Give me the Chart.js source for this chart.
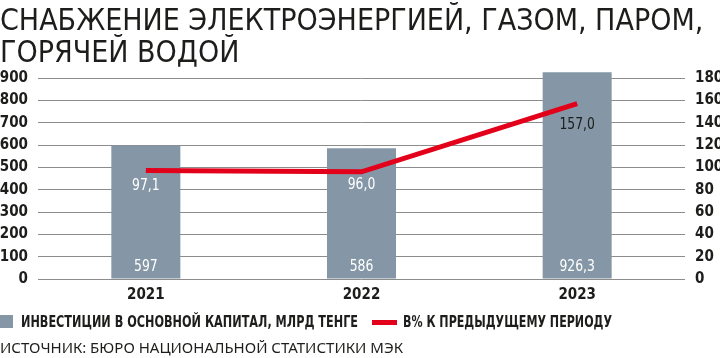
<!DOCTYPE html>
<html><head><meta charset="utf-8">
<script src="https://cdn.jsdelivr.net/npm/chart.js@4"></script>
<style>
html,body{margin:0;padding:0;background:#fff;width:720px;height:358px;overflow:hidden;}
#wrap{position:relative;width:720px;height:358px;}
#c{position:absolute;left:0;top:0;}
#title{position:absolute;left:0;top:4px;font-family:"DejaVu Sans Condensed";font-size:30px;line-height:32px;color:#1d1d1b;white-space:nowrap;}
#legend{position:absolute;left:0;top:313px;height:18px;font-family:"DejaVu Sans Condensed";font-weight:bold;font-size:16px;color:#1d1d1b;white-space:nowrap;}
.li{position:absolute;top:0;line-height:18px;transform-origin:0 50%;display:inline-block;}
.sw{position:absolute;}
#source{position:absolute;left:0;top:337px;font-family:"Noto Sans";font-size:15px;line-height:20px;color:#1d1d1b;white-space:nowrap;}
</style></head>
<body><div id="wrap">
<canvas id="c" width="720" height="358"></canvas>
<div id="title">СНАБЖЕНИЕ ЭЛЕКТРОЭНЕРГИЕЙ, ГАЗОМ, ПАРОМ,<br>ГОРЯЧЕЙ ВОДОЙ</div>
<div id="legend"></div>
<div id="source">ИСТОЧНИК: БЮРО НАЦИОНАЛЬНОЙ СТАТИСТИКИ МЭК</div>
</div>
<script>
const categories = ['2021', '2022', '2023'];
const investments = [597, 586, 926.3];
const growthPct = [97.1, 96.0, 157.0];
const seriesNames = ['ИНВЕСТИЦИИ В ОСНОВНОЙ КАПИТАЛ, МЛРД ТЕНГЕ', 'В% К ПРЕДЫДУЩЕМУ ПЕРИОДУ'];
const leftTicks = [0, 100, 200, 300, 400, 500, 600, 700, 800, 900];
const rightTicks = [0, 20, 40, 60, 80, 100, 120, 140, 160, 180];

const BAR_COLOR = '#8597a6';
const LINE_COLOR = '#e2001a';
const TEXT = '#1d1d1b';
const FONT = 'DejaVu Sans Condensed';

// plot area runs from y=60 to y=279; the top tick (900 / 180) sits at y=78
const AREA_TOP = 60, AREA_BOTTOM = 279, TOP_TICK_Y = 78;
const headroom = (AREA_BOTTOM - AREA_TOP) / (AREA_BOTTOM - TOP_TICK_Y);
const leftMax = leftTicks[leftTicks.length - 1] * headroom;
const rightMax = rightTicks[rightTicks.length - 1] * headroom;

const fmtBar = v => Number.isInteger(v) ? String(v) : v.toFixed(1).replace('.', ',');
const fmtLine = v => v.toFixed(1).replace('.', ',');

const valueLabels = {
  id: 'valueLabels',
  afterDatasetsDraw(chart, args, opts) {
    const ctx = chart.ctx;
    const sx = 0.86;
    ctx.save();
    ctx.textAlign = 'center';
    ctx.textBaseline = 'middle';
    ctx.font = '16px "' + FONT + '"';
    const drawText = (t, x, y, col) => {
      ctx.save();
      ctx.translate(x, y);
      ctx.scale(sx, 1);
      ctx.fillStyle = col;
      ctx.fillText(t, 0, 0);
      ctx.restore();
    };
    const barMeta = chart.getDatasetMeta(0);
    const yL = chart.scales.y;
    barMeta.data.forEach((el, i) => {
      drawText(fmtBar(investments[i]), el.x, yL.getPixelForValue(0) - 12, '#ffffff');
    });
    const lineMeta = chart.getDatasetMeta(1);
    lineMeta.data.forEach((el, i) => {
      drawText(fmtLine(growthPct[i]), el.x, el.y + opts.lineLabelOffsets[i], opts.lineLabelColors[i]);
    });
    ctx.restore();
  }
};

const tickFont = { family: FONT, weight: 'bold', size: 15 };

const chart = new Chart(document.getElementById('c'), {
  data: {
    labels: categories,
    datasets: [
      { type: 'bar', label: seriesNames[0], data: investments, backgroundColor: BAR_COLOR,
        yAxisID: 'y', categoryPercentage: 1, barPercentage: 0.32, order: 2 },
      { type: 'line', label: seriesNames[1], data: growthPct, borderColor: LINE_COLOR,
        borderWidth: 5, pointRadius: 0, tension: 0, yAxisID: 'y1', order: 1, borderCapStyle: 'butt' }
    ]
  },
  options: {
    responsive: false,
    animation: false,
    layout: { padding: { top: AREA_TOP, left: 0, right: 0, bottom: 0 } },
    plugins: {
      legend: { display: false },
      title: { display: false },
      tooltip: { enabled: false },
      valueLabels: { lineLabelColors: ['#ffffff', '#ffffff', TEXT], lineLabelOffsets: [15, 13, 21] }
    },
    scales: {
      x: {
        grid: { display: false, drawTicks: false },
        border: { display: false },
        ticks: { color: TEXT, font: tickFont, padding: 7 },
        afterFit(s) { s.height = 358 - AREA_BOTTOM; }
      },
      y: {
        position: 'left', min: 0, max: leftMax,
        afterBuildTicks(s) { s.ticks = leftTicks.map(v => ({ value: v })); },
        grid: { color: '#8c8c8c', lineWidth: 1, drawTicks: false },
        border: { display: false },
        ticks: { color: TEXT, font: tickFont, padding: 10, autoSkip: false },
        afterFit(s) { s.width = 38; }
      },
      y1: {
        position: 'right', min: 0, max: rightMax,
        afterBuildTicks(s) { s.ticks = rightTicks.map(v => ({ value: v })); },
        grid: { display: false, drawTicks: false },
        border: { display: false },
        ticks: { color: TEXT, font: tickFont, padding: 10, autoSkip: false },
        afterFit(s) { s.width = 35; }
      }
    }
  },
  plugins: [valueLabels]
});

// HTML legend built from chart datasets
const lg = document.getElementById('legend');
const ds = chart.data.datasets;
lg.innerHTML =
  '<span class="sw" style="left:0;top:2px;width:13px;height:13px;background:' + ds[0].backgroundColor + '"></span>' +
  '<span class="li" id="l1" style="left:21px">' + ds[0].label + '</span>' +
  '<span class="sw" style="left:372px;top:7px;width:25px;height:5px;background:' + ds[1].borderColor + '"></span>' +
  '<span class="li" id="l2" style="left:403px">' + ds[1].label + '</span>';
function fitW(id, target) {
  const el = document.getElementById(id);
  const w = el.getBoundingClientRect().width;
  el.style.transform = 'scaleX(' + (target / w) + ')';
}
fitW('l1', 337);
fitW('l2', 209);
</script>
</body></html>
